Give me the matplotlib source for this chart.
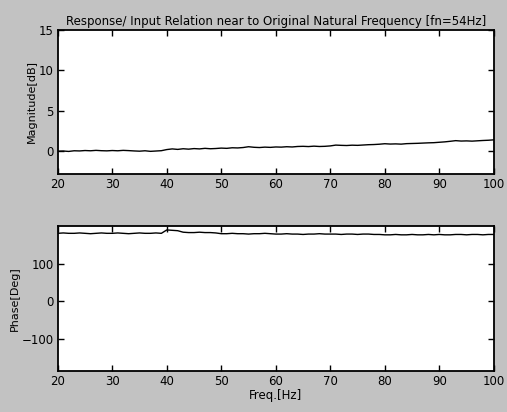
import matplotlib
matplotlib.use('Agg')
import matplotlib.pyplot as plt
import numpy as np

freq = np.arange(20, 101)

# magnitude (dB), 1 Hz steps
magnitude_db = [
    0.00, 0.02, -0.03, 0.05, 0.03, 0.08, 0.05, 0.10, 0.06, 0.04,
    0.08, 0.05, 0.10, 0.07, 0.03, 0.00, 0.05, -0.02, 0.02, 0.06,
    0.20, 0.28, 0.22, 0.30, 0.25, 0.32, 0.28, 0.35, 0.30, 0.33,
    0.38, 0.35, 0.42, 0.40, 0.45, 0.55, 0.48, 0.45, 0.50, 0.47,
    0.52, 0.50, 0.55, 0.52, 0.58, 0.60, 0.57, 0.62, 0.58, 0.60,
    0.65, 0.75, 0.72, 0.70, 0.74, 0.72, 0.76, 0.80, 0.82, 0.86,
    0.92, 0.88, 0.90, 0.87, 0.93, 0.95, 0.97, 1.00, 1.03, 1.05,
    1.10, 1.15, 1.22, 1.30, 1.25, 1.27, 1.24, 1.28, 1.32, 1.35,
    1.40,
]

# phase (deg)
phase_deg = [
    181, 182, 181, 181, 182, 181, 180, 181, 182, 181,
    181, 182, 181, 180, 181, 182, 181, 181, 182, 181,
    190, 189, 188, 184, 183, 183, 184, 183, 183, 182,
    180, 180, 181, 180, 180, 179, 180, 180, 181, 180,
    179, 179, 180, 179, 179, 178, 179, 179, 180, 179,
    179, 179, 178, 179, 179, 178, 179, 179, 178, 178,
    177, 177, 178, 177, 177, 178, 177, 177, 178, 177,
    178, 177, 177, 178, 178, 177, 178, 178, 177, 178,
    178,
]

title = 'Response/ Input Relation near to Original Natural Frequency [fn=54Hz]'
x_ticks = [20, 30, 40, 50, 60, 70, 80, 90, 100]
mag_ticks = [0, 5, 10, 15]
phase_ticks = [-100, 0, 100]

plt.rcParams['font.family'] = ['DejaVu Sans']
fig = plt.figure(figsize=(5.07, 4.12), dpi=100, facecolor='#c2c2c2')
ax1 = fig.add_axes([0.114, 0.578, 0.860, 0.350])
ax2 = fig.add_axes([0.114, 0.100, 0.860, 0.351])


def _style(ax):
    ax.set_xlim(20, 100)
    ax.set_xticks(x_ticks)
    ax.tick_params(direction='in', top=True, right=True, length=4, width=1,
                   labelsize=8.5, pad=3)
    for s in ax.spines.values():
        s.set_linewidth(1.3)
    ax.set_facecolor('white')


ax1.plot(freq, magnitude_db, color='black', lw=1.0)
ax1.set_ylim(-2.8, 15)
ax1.set_yticks(mag_ticks)
ax1.set_ylabel('Magnitude[dB]', fontsize=8, labelpad=1)
ax1.set_title(title, fontsize=8.5, pad=3)
_style(ax1)

ax2.plot(freq, phase_deg, color='black', lw=1.0)
ax2.set_ylim(-185, 200)
ax2.set_yticks(phase_ticks)
ax2.set_ylabel('Phase[Deg]', fontsize=8, labelpad=1)
ax2.set_xlabel('Freq.[Hz]', fontsize=8.5, labelpad=1)
_style(ax2)

fig.savefig('out.png', dpi=100, facecolor=fig.get_facecolor())
